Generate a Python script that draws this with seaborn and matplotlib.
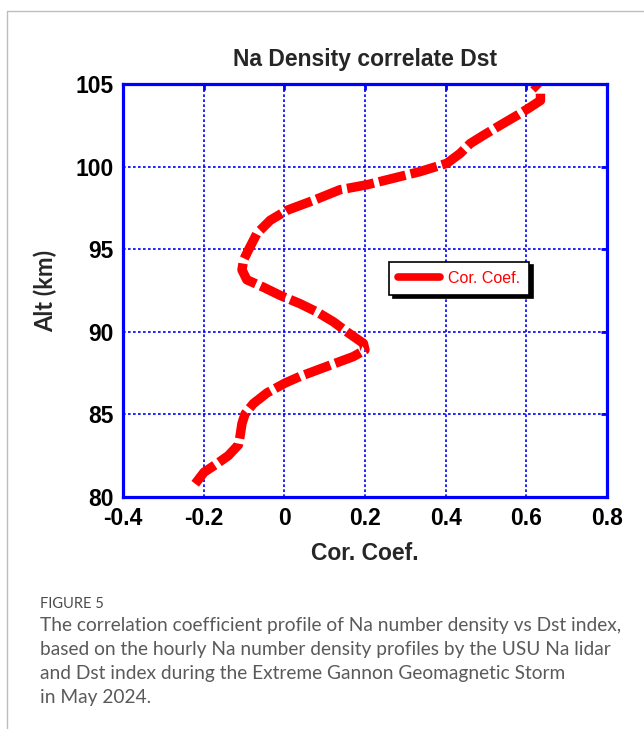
import numpy as np
import pandas as pd
import matplotlib
matplotlib.use("Agg")
import matplotlib.pyplot as plt
from matplotlib.lines import Line2D
import seaborn as sns

# ---- data ----
altitude_km = [80.8, 81.5, 82.0, 82.5, 83.15, 83.65, 84.45, 85.05, 85.65, 86.3,
               86.9, 87.3, 87.9, 88.5, 88.9, 89.3, 90.0, 90.6, 91.2, 91.7,
               92.2, 92.7, 93.15, 93.75, 94.35, 94.95, 95.95, 96.75, 97.35, 97.95,
               98.6, 98.9, 99.3, 99.7, 100.2, 100.8, 101.4, 101.9, 102.5, 103.1,
               103.6, 104.0, 104.6, 105.0]
cor_coef = [-0.221, -0.199, -0.168, -0.139, -0.114, -0.110, -0.105, -0.097, -0.077, -0.043,
            0.002, 0.039, 0.105, 0.171, 0.200, 0.196, 0.155, 0.122, 0.081, 0.039,
            -0.010, -0.052, -0.093, -0.105, -0.101, -0.089, -0.068, -0.035, 0.006, 0.072,
            0.138, 0.205, 0.271, 0.337, 0.403, 0.436, 0.461, 0.494, 0.535, 0.577,
            0.610, 0.635, 0.635, 0.618]
marker_cor = [-0.137]
marker_alt = [82.6]

x_ticks = [-0.4, -0.2, 0.0, 0.2, 0.4, 0.6, 0.8]
x_tick_labels = ["-0.4", "-0.2", "0", "0.2", "0.4", "0.6", "0.8"]
y_ticks = [80, 85, 90, 95, 100, 105]
y_tick_labels = ["80", "85", "90", "95", "100", "105"]

title = "Na Density correlate Dst"
x_label = "Cor. Coef."
y_label = "Alt (km)"
legend_label = "Cor. Coef."
caption_head = "FIGURE 5"
caption_lines = [
    "The correlation coefficient profile of Na number density vs Dst index,",
    "based on the hourly Na number density profiles by the USU Na lidar",
    "and Dst index during the Extreme Gannon Geomagnetic Storm",
    "in May 2024.",
]

df = pd.DataFrame({"cor": cor_coef, "alt": altitude_km})

sns.set_theme(style="white")
plt.rcParams["font.family"] = ["Liberation Sans", "DejaVu Sans"]

BLUE = "#0000ff"
RED = "#ff0000"

fig = plt.figure(figsize=(6.44, 7.29), dpi=100)
fig.patch.set_facecolor("white")
ax = fig.add_axes([123 / 644, 1 - 497 / 729, 484 / 644, 413 / 729])
ax.set_facecolor("white")

sns.lineplot(data=df, x="cor", y="alt", orient="y", estimator=None, sort=False,
             color=RED, linewidth=6.8, label=legend_label, ax=ax,
             linestyle=(0, (2.9, 0.55)), dash_capstyle="butt")
ax.plot(marker_cor, marker_alt, linestyle="none", marker="o", markersize=5,
        markerfacecolor="none", markeredgecolor=RED, markeredgewidth=0.7)

ax.set_xlim(-0.4, 0.8)
ax.set_ylim(80, 105)
ax.set_xticks(x_ticks)
ax.set_xticklabels(x_tick_labels)
ax.set_yticks(y_ticks)
ax.set_yticklabels(y_tick_labels)

ax.grid(True, color=BLUE, linestyle=(0, (1.6, 1.4)), linewidth=1.2)
for s in ax.spines.values():
    s.set_visible(True)
    s.set_color(BLUE)
    s.set_linewidth(2.3)
ax.tick_params(axis="both", which="both", direction="in", length=4, width=2,
               color=BLUE, top=True, right=True, pad=7,
               labelsize=16.5, labelcolor="black")
for lab in ax.get_xticklabels() + ax.get_yticklabels():
    lab.set_fontweight("bold")

ax.set_title(title, fontsize=16.5, fontweight="bold", pad=13)
ax.set_xlabel(x_label, fontsize=16.5, fontweight="bold", labelpad=9)
ax.set_ylabel(y_label, fontsize=17, fontweight="bold", labelpad=13,
              family=["Lato", "DejaVu Sans"])

leg = ax.legend(loc="upper left", bbox_to_anchor=(0.55, 0.569), borderaxespad=0,
                frameon=True, fancybox=False, edgecolor="black",
                shadow={"color": "black", "alpha": 1.0, "ox": 2.5, "oy": -2.5},
                handlelength=2.6, handletextpad=0.55, borderpad=0.55,
                prop={"size": 11.5})
leg.get_frame().set_linewidth(1.2)
for ln in leg.get_lines():
    ln.set_linestyle("-")
    ln.set_linewidth(5.5)
for t in leg.get_texts():
    t.set_color(RED)

# page frame
fig.add_artist(Line2D([7 / 644, 7 / 644], [0, 1 - 11 / 729], transform=fig.transFigure,
                      color="#bdbdbd", linewidth=1.0))
fig.add_artist(Line2D([7 / 644, 1], [1 - 11 / 729, 1 - 11 / 729], transform=fig.transFigure,
                      color="#bdbdbd", linewidth=1.0))

# caption
fig.text(40 / 644, 1 - 604 / 729, caption_head, fontsize=10.5, color="#4a4a4a",
         va="center", ha="left", family=["Lato", "DejaVu Sans"])
cap_y = [625, 650, 674, 698]
for yy, line in zip(cap_y, caption_lines):
    fig.text(40 / 644, 1 - yy / 729, line, fontsize=13.8, color="#5a5a5a",
             va="center", ha="left", family=["Lato", "DejaVu Sans"])

fig.savefig("out.png", dpi=100)
